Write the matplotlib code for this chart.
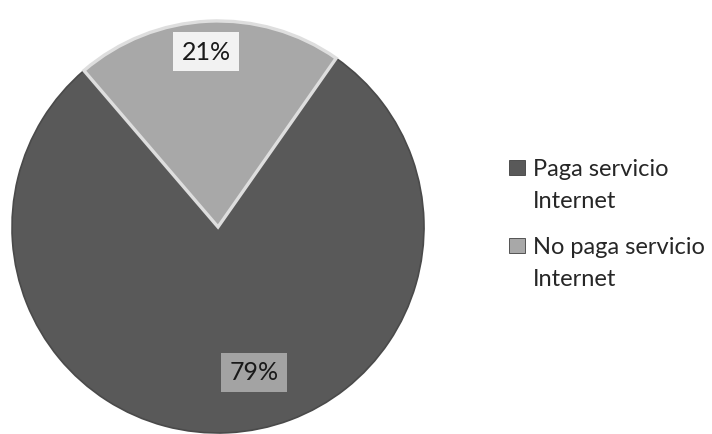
import matplotlib
matplotlib.use("Agg")
import matplotlib.pyplot as plt
from matplotlib.patches import Rectangle

# Share of respondents by Internet payment status
categories = ["Paga servicio\nInternet", "No paga servicio\nInternet"]
values = [79, 21]
colors = ["#595959", "#a8a8a8"]

plt.rcParams["font.family"] = ["Lato", "DejaVu Sans"]

W, H = 712, 435
fig = plt.figure(figsize=(W / 100, H / 100), dpi=100)
ax = fig.add_axes([0, 0, 1, 1])

radius = 206
center = (218, H - 228)

wedges, texts, autotexts = ax.pie(
    values,
    colors=colors,
    startangle=55,
    counterclock=False,
    explode=[0, 0.03],
    radius=radius,
    center=center,
    autopct="%1.0f%%",
    pctdistance=0.75,
    frame=True,
    textprops=dict(fontsize=18, color="#1a1a1a"),
)
ax.set_xlim(0, W)
ax.set_ylim(0, H)
ax.set_aspect("equal")
ax.axis("off")

wedges[0].set_edgecolor("#4a4a4a")
wedges[0].set_linewidth(1.2)
wedges[1].set_edgecolor("#dedede")
wedges[1].set_linewidth(2.4)

# Data label boxes
label_pos = [(254, H - 373), (206, H - 52)]
box_faces = ["#a3a3a3", "#f2f2f2"]
for t, pos, fc in zip(autotexts, label_pos, box_faces):
    t.set_position(pos)
    t.set_ha("center")
    t.set_va("center")
    t.set_bbox(dict(boxstyle="square,pad=0.32", facecolor=fc, edgecolor="none"))

# Legend: square swatch beside the first line of each two-line entry
entry_top = [176, 254]      # baseline of first line (pixels from top)
line_gap = 32
for cat, col, base in zip(categories, colors, entry_top):
    ax.add_patch(Rectangle((509, H - base), 16, 15, facecolor=col,
                           edgecolor="#3f3f3f", linewidth=0.6))
    for i, line in enumerate(cat.split("\n")):
        ax.text(533, H - (base + i * line_gap), line, fontsize=17,
                color="#262626", ha="left", va="baseline")

fig.savefig("out.png", dpi=100, facecolor="white")
